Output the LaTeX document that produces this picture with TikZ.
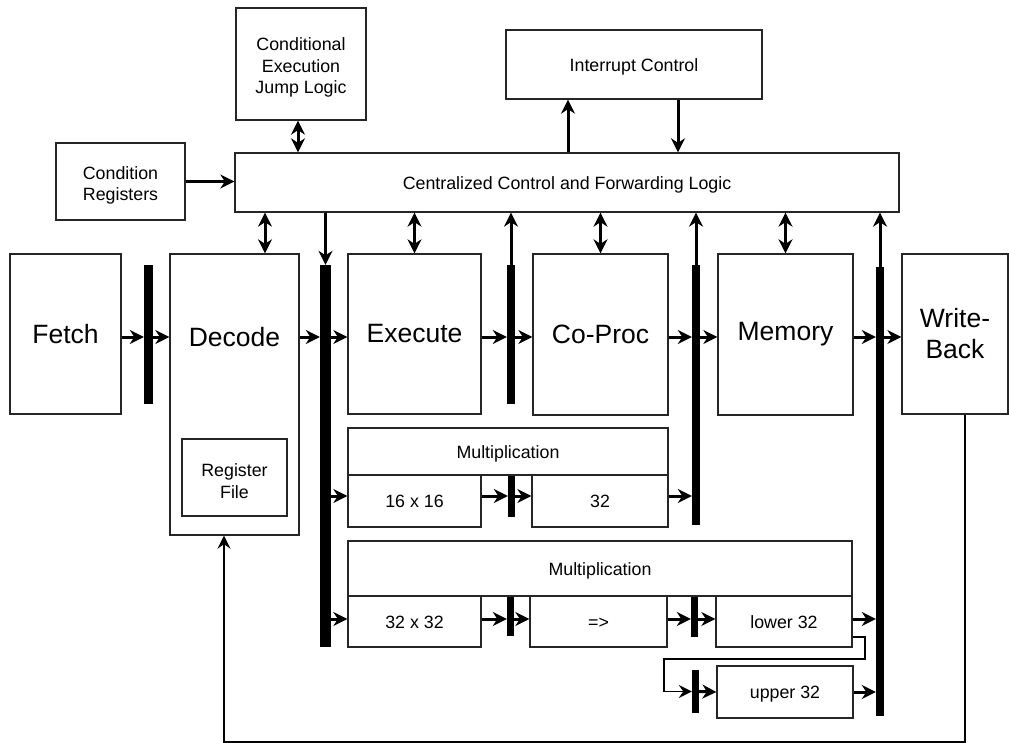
\documentclass[tikz,border=0pt]{standalone}
\usepackage{fontspec}
\setmainfont{Liberation Sans}
\usetikzlibrary{arrows.meta}
\newcommand{\topstrut}{\rule{0pt}{20pt}}
\tikzset{
  box/.style={draw=black!85, line width=1.3pt, inner sep=0pt, align=center, fill=white},
  big/.style={font=\fontsize{26.5}{31}\selectfont},
  small/.style={font=\fontsize{17.8}{21.2}\selectfont},
  one/.style={small, text height=15.5pt, text depth=2pt},
  latch/.style={fill=black, draw=none, inner sep=0pt},
  arr/.style={line width=3pt, -{Stealth[length=14pt, width=14pt, inset=4.5pt]}},
  dbl/.style={line width=3pt, {Stealth[length=14pt, width=14pt, inset=4.5pt]}-{Stealth[length=14pt, width=14pt, inset=4.5pt]}},
  fbarr/.style={line width=1.7pt, -{Stealth[length=13pt, width=13pt, inset=4.5pt]}}
}
\begin{document}
\begin{tikzpicture}[x=1pt, y=-1pt]
  \useasboundingbox (0,0) rectangle (1009,743);
  % top row
  \node[box, small, minimum width=130, minimum height=112] (cej) at (301,64) {\topstrut Conditional\\Execution\\Jump Logic};
  \node[box, one, minimum width=256, minimum height=69] (intc) at (634,64.5) {Interrupt Control};
  \node[box, small, minimum width=129, minimum height=77] (creg) at (120.5,181.5) {\topstrut Condition\\Registers};
  \node[box, one, minimum width=664, minimum height=59] (ccfl) at (567,182.5) {Centralized Control and Forwarding Logic};
  % pipeline stages
  \node[box, big, minimum width=111, minimum height=160] (fetch) at (65.5,334) {Fetch};
  \node[box, minimum width=129, minimum height=281, label={[big, yshift=57pt]center:Decode}] (decode) at (234.5,394.5) {};
  \node[box, small, minimum width=105, minimum height=77] (regfile) at (234.5,477.5) {\topstrut Register\\File};
  \node[box, big, minimum width=133, minimum height=160] (exec) at (414.5,334) {Execute};
  \node[box, big, minimum width=135, minimum height=161] (coproc) at (600.5,334.5) {Co-Proc};
  \node[box, big, minimum width=135, minimum height=161] (mem) at (785.5,334.5) {Memory};
  \node[box, big, minimum width=106, minimum height=160] (wb) at (955,334) {Write-\\Back};
  % multipliers
  \node[box, one, minimum width=320, minimum height=47] (mula) at (508,451.5) {Multiplication};
  \node[box, one, minimum width=133, minimum height=52] (m16) at (414.5,501) {16 x 16};
  \node[box, one, minimum width=136, minimum height=52] (m32) at (600,501) {32};
  \node[box, one, minimum width=504, minimum height=55] (mulb) at (600,568.5) {Multiplication};
  \node[box, one, minimum width=133, minimum height=51] (m3232) at (414.5,621.5) {32 x 32};
  \node[box, one, minimum width=137, minimum height=51] (conv) at (598.5,621.5) {=>};
  \node[box, one, minimum width=136, minimum height=51] (low) at (784,621.5) {lower 32};
  \node[box, one, minimum width=136, minimum height=52] (up) at (785,692) {upper 32};
  % pipeline latches
  \node[latch, minimum width=9, minimum height=139] (bar1) at (148.5,334.5) {};
  \node[latch, minimum width=11, minimum height=382] (bar2) at (325.5,456) {};
  \node[latch, minimum width=8, minimum height=139] (bar3) at (511,334.5) {};
  \node[latch, minimum width=8, minimum height=260] (bar4) at (696,395) {};
  \node[latch, minimum width=8, minimum height=449] (bar5) at (880,491.5) {};
  \node[latch, minimum width=7, minimum height=41] (bar6) at (511.5,496.5) {};
  \node[latch, minimum width=7, minimum height=39] (bar7) at (510.5,616.5) {};
  \node[latch, minimum width=7, minimum height=40] (bar8) at (694.5,617) {};
  \node[latch, minimum width=7, minimum height=43] (bar9) at (695.5,691.5) {};
  % helper points
  \coordinate (row) at (0,337);
  \coordinate (ia) at (568,0);
  \coordinate (ib) at (678,0);
  \coordinate (dc) at (265,0);
  \coordinate (ma) at (0,496);
  \coordinate (mb) at (0,619);
  \coordinate (fb) at (965,742);
  \coordinate (fbd) at (224,742);
  % control connections
  \draw[dbl] (cej.south -| 298,0) -- (ccfl.north -| 298,0);
  \draw[arr] (creg.east) -- (creg.east -| ccfl.west);
  \draw[arr] (ia |- ccfl.north) -- (ia |- intc.south);
  \draw[arr] (ib |- intc.south) -- (ib |- ccfl.north);
  \draw[dbl] (dc |- ccfl.south) -- (dc |- decode.north);
  \draw[arr] (bar2.north |- ccfl.south) -- (bar2.north);
  \draw[dbl] (exec.north |- ccfl.south) -- (exec.north);
  \draw[arr] (bar3.north) -- (bar3.north |- ccfl.south);
  \draw[dbl] (coproc.north |- ccfl.south) -- (coproc.north);
  \draw[arr] (bar4.north) -- (bar4.north |- ccfl.south);
  \draw[dbl] (mem.north |- ccfl.south) -- (mem.north);
  \draw[arr] (bar5.north) -- (bar5.north |- ccfl.south);
  % main pipeline
  \draw[arr] (fetch.east |- row) -- (bar1.west |- row);
  \draw[arr] (bar1.east |- row) -- (decode.west |- row);
  \draw[arr] (decode.east |- row) -- (bar2.west |- row);
  \draw[arr] (bar2.east |- row) -- (exec.west |- row);
  \draw[arr] (exec.east |- row) -- (bar3.west |- row);
  \draw[arr] (bar3.east |- row) -- (coproc.west |- row);
  \draw[arr] (coproc.east |- row) -- (bar4.west |- row);
  \draw[arr] (bar4.east |- row) -- (mem.west |- row);
  \draw[arr] (mem.east |- row) -- (bar5.west |- row);
  \draw[arr] (bar5.east |- row) -- (wb.west |- row);
  % 16 x 16 path
  \draw[arr] (bar2.east |- ma) -- (m16.west |- ma);
  \draw[arr] (m16.east |- ma) -- (bar6.west |- ma);
  \draw[arr] (bar6.east |- ma) -- (m32.west |- ma);
  \draw[arr] (m32.east |- ma) -- (bar4.west |- ma);
  % 32 x 32 path
  \draw[arr] (bar2.east |- mb) -- (m3232.west |- mb);
  \draw[arr] (m3232.east |- mb) -- (bar7.west |- mb);
  \draw[arr] (bar7.east |- mb) -- (conv.west |- mb);
  \draw[arr] (conv.east |- mb) -- (bar8.west |- mb);
  \draw[arr] (bar8.east |- mb) -- (low.west |- mb);
  \draw[arr] (low.east |- mb) -- (bar5.west |- mb);
  \draw[fbarr] ([yshift=-15.5pt]low.east) -- ++(12,0) -- ++(0,22) -- ++(-201,0) |- (bar9.west);
  \draw[arr] (bar9.east) -- (up.west);
  \draw[arr] (up.east) -- (up.east -| bar5.west);
  % write back
  \draw[fbarr] (fb |- wb.south) -- (fb) -- (fbd) -- (fbd |- decode.south);
\end{tikzpicture}
\end{document}
